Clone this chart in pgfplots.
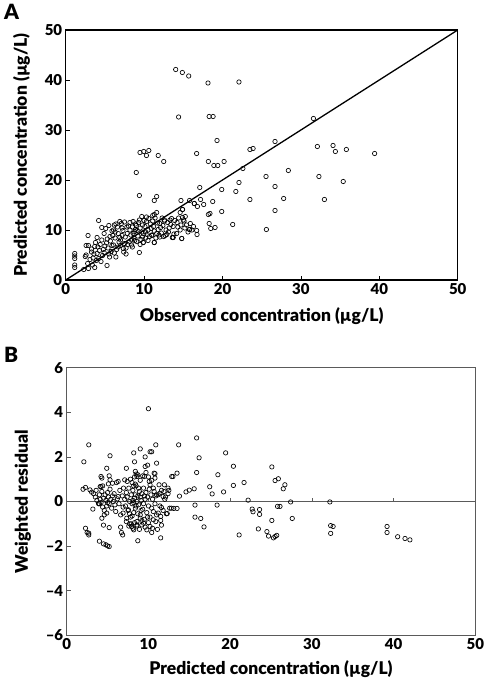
\documentclass[border=0pt]{standalone}
\usepackage{pgfplots}
\pgfplotsset{compat=1.18}
\usepackage{fontspec}
\setmainfont{Lato}[BoldFont={Lato Black}]
\definecolor{framegray}{RGB}{90,90,90}
\begin{document}
\begin{tikzpicture}
\useasboundingbox (0,0) rectangle (486pt,-684pt);
\pgfplotsset{
  every axis/.append style={
    scale only axis,
    /pgf/number format/assume math mode=true,
    tick label style={font=\fontsize{15}{17}\selectfont\bfseries},
    label style={font=\fontsize{17.5}{20}\selectfont\bfseries},
    tick align=inside,
    major tick length=4pt,
    xtick pos=left, ytick pos=left,
  },
}
% ---------------- Panel A
\node[anchor=north west, font=\fontsize{21}{24}\selectfont\bfseries, inner sep=0pt] at (4pt,-4pt) {A};
\begin{axis}[
  at={(65.7pt,-280pt)}, anchor=south west,
  width=392pt, height=250pt,
  xmin=0, xmax=50, ymin=0, ymax=50,
  xtick={0,10,...,50}, ytick={0,10,...,50},
  axis line style={black, line width=1.1pt},
  tick style={black, line width=0.6pt},
  xlabel={Observed concentration (µg/L)},
  ylabel={Predicted concentration (µg/L)},
  xlabel style={yshift=-6pt},
  ylabel style={yshift=8pt},
]
\addplot[black, line width=1.3pt] coordinates {(0,0) (50,50)};
\addplot[only marks, mark=o, mark size=2.2pt, black, mark options={line width=0.65pt}] coordinates {
(1.15,5.3)(1.15,4.8)(1.15,4.3)(1.15,3.0)(1.15,2.5)
(2.3,2.1)(2.6,6.9)(2.9,6.9)(2.85,8.9)(2.6,5.0)(2.5,4.7)(2.8,3.3)(2.9,2.3)(3.1,4.1)(3.3,5.6)
(3.4,3.0)(3.7,2.5)(3.7,6.7)(3.5,4.4)(3.9,3.9)(3.6,5.2)(3.8,7.5)(3.3,6.2)
(4.0,8.5)(4.2,11.9)(4.0,5.3)(4.2,4.3)(4.5,3.7)(4.8,6.1)(4.6,8.0)(4.9,9.3)(4.4,7.1)(4.3,5.9)(4.7,4.9)(4.1,6.6)(4.9,5.5)(4.6,10.5)
(5.1,10.3)(5.5,10.9)(5.65,8.7)(5.27,2.9)(5.2,7.4)(5.4,6.4)(5.8,5.7)(5.6,4.6)(5.3,8.2)(5.9,9.8)(5.0,6.8)(5.7,7.8)(5.5,5.2)(5.9,6.9)
(6.1,10.0)(6.1,7.0)(6.4,11.2)(6.9,11.7)(6.7,9.3)(6.3,8.4)(6.5,6.1)(6.2,5.4)(6.8,7.6)(6.6,10.6)(6.0,8.9)(6.4,4.6)(6.9,8.5)(6.3,9.6)(6.7,6.6)(6.2,11.0)
(7.0,8.0)(7.35,6.3)(7.7,5.2)(7.85,9.3)(7.2,10.4)(7.5,7.3)(7.1,11.3)(7.6,8.6)(7.3,9.9)(7.9,7.1)(7.4,5.6)(7.8,10.6)(7.0,6.9)(7.5,11.6)(7.2,8.9)(7.7,6.4)
(8.2,10.0)(8.4,8.0)(8.6,11.7)(8.8,9.7)(8.1,7.6)(8.3,9.0)(8.5,10.6)(8.7,8.4)(8.9,11.2)(8.0,10.8)(8.4,7.0)(8.6,9.3)(8.8,7.9)(8.2,11.5)(8.9,10.1)(8.5,6.6)
(9.05,7.7)(9.7,12.7)(9.9,9.3)(9.4,5.5)(9.9,7.5)(9.2,8.8)(9.5,10.4)(9.3,11.5)(9.6,8.1)(9.8,11.0)(9.1,9.9)(9.4,12.0)(9.7,9.6)(9.0,10.9)(9.5,7.1)(9.8,8.6)
(10.3,11.7)(10.5,10.0)(10.97,9.0)(10.2,8.4)(10.6,12.3)(10.1,10.7)(10.4,9.1)(10.8,11.2)(10.0,11.9)(10.7,8.7)(10.3,12.6)(10.9,10.3)(10.5,7.9)(10.2,9.6)
(11.2,10.7)(11.6,9.3)(11.3,7.5)(11.1,11.8)(11.5,8.4)(11.8,10.1)(11.4,12.4)(11.9,9.0)(11.0,8.9)(11.7,11.4)(11.3,9.8)(11.6,13.5)(11.3,13.1)(11.1,12.9)
(12.0,11.3)(12.5,8.7)(12.8,10.0)(12.2,9.4)(12.6,11.8)(12.3,12.4)(12.9,9.1)(12.1,10.5)(12.7,8.9)(12.4,10.9)(12.0,8.6)(12.6,12.0)
(13.3,12.0)(13.5,12.3)(13.7,10.7)(13.1,9.6)(13.4,11.1)(13.8,9.2)(13.2,10.4)(13.6,8.5)(13.9,11.9)(13.0,11.5)(13.7,8.5)
(14.15,9.3)(14.6,10.0)(14.4,12.4)(14.8,8.3)(14.2,11.5)(14.7,11.0)(14.9,14.1)(14.6,13.5)(14.3,10.6)(14.9,12.5)
(15.0,12.0)(15.25,12.7)(15.4,11.0)(15.9,11.3)(15.8,10.1)(15.2,10.4)(15.6,9.6)(15.1,11.8)
(16.1,10.0)(16.7,9.9)(16.75,9.1)(16.4,15.3)(16.8,14.7)(16.3,10.7)
(14.03,42.1)(14.88,41.5)(15.69,40.8)(18.15,39.4)(22.1,39.6)
(14.4,32.6)(18.3,32.7)(18.8,32.7)(31.6,32.3)
(19.3,27.9)(26.7,27.7)(32.1,26.7)(34.1,26.9)(34.4,25.7)(35.8,26.1)(39.4,25.3)(23.5,26.1)(23.9,26.3)
(9.48,25.5)(9.95,25.7)(10.6,25.9)(10.3,24.9)(11.8,24.9)(12.5,23.7)(16.7,25.3)(18.2,23.7)(18.9,22.9)(19.4,22.9)(20.2,23.7)
(22.6,22.3)(28.4,21.9)(9.0,21.5)(25.55,20.7)(32.3,20.7)(22.1,19.5)(35.4,19.7)(26.7,18.7)(17.1,18.5)(19.9,18.1)(21.7,17.7)
(9.4,16.9)(11.6,16.7)(11.3,15.9)(14.7,15.9)(15.8,15.9)(17.2,16.1)(18.75,15.7)(23.5,16.1)(27.8,16.3)(33.0,16.1)
(16.4,15.3)(17.6,15.1)(14.9,14.1)(19.9,13.7)(26.7,13.9)(18.4,13.3)(18.2,13.1)
(21.3,11.1)(18.3,11.3)(19.05,10.5)(18.5,10.3)(25.6,10.1)(15.8,10.1)(14.8,8.3)(13.7,8.5)(11.3,7.5)(9.9,7.5)
};
\end{axis}
% ---------------- Panel B
\node[anchor=north west, font=\fontsize{21}{24}\selectfont\bfseries, inner sep=0pt] at (4pt,-347pt) {B};
\begin{axis}[
  at={(66.7pt,-635.3pt)}, anchor=south west,
  width=408.6pt, height=267.6pt,
  xmin=0, xmax=50, ymin=-6, ymax=6,
  xtick={0,10,...,50}, ytick={-6,-4,...,6},
  yticklabels={--6,--4,--2,0,2,4,6},
  x tick style={draw=none},
  y tick style={framegray, line width=0.6pt},
  axis line style={framegray, line width=1.3pt},
  xlabel={Predicted concentration (µg/L)},
  ylabel={Weighted residual},
  xlabel style={yshift=-4pt},
  ylabel style={yshift=8pt},
]
\addplot[framegray, line width=1pt] coordinates {(0,0) (50,0)};
\foreach \xx in {10,20,30,40} {
  \edef\temp{\noexpand\draw[framegray, line width=0.6pt] (axis cs:\xx,0) -- ++(0pt,4pt);}
  \temp
}
\addplot[only marks, mark=o, mark size=2.2pt, black, mark options={line width=0.65pt}] coordinates {
(10.0,4.16)(2.7,2.54)(2.1,1.78)(15.9,2.85)(13.7,2.54)(10.9,2.54)(19.45,2.18)(16.2,1.96)(9.0,2.36)(8.2,2.18)(10.2,2.23)(10.4,2.23)(5.3,2.05)(9.6,2.0)
(20.4,1.58)(25.1,1.55)(15.9,1.30)(18.5,1.20)(21.7,0.85)(25.9,1.02)(25.5,0.94)(26.7,0.75)(26.5,0.57)(20.4,0.72)(19.2,0.43)(17.5,0.66)(17.8,0.34)
(15.6,0.57)(15.0,0.51)(14.6,0.43)(13.8,0.24)(22.2,0.06)(27.4,-0.02)(32.2,-0.02)(18.4,-0.16)(15.7,-0.16)(15.7,-0.70)(16.4,-0.76)(16.8,-1.14)
(22.7,-0.34)(22.8,-0.46)(23.6,-0.36)(23.6,-0.58)(23.45,-1.23)(21.1,-1.50)(24.5,-1.35)(24.7,-1.55)(25.1,-0.85)(25.3,-1.63)(25.5,-1.57)(25.7,-1.52)
(25.8,-0.22)(26.1,-0.22)(27.6,-0.76)(32.3,-1.43)(32.3,-1.08)(32.6,-1.12)(39.2,-1.12)(39.2,-1.39)(40.5,-1.58)(41.4,-1.66)(42.0,-1.72)
(13.5,-0.31)(13.1,-0.31)(12.3,-0.54)(11.6,-0.27)(11.5,-0.67)(11.6,-1.06)(11.5,-1.63)(10.4,-1.39)(8.7,-1.76)
(4.0,-1.78)(4.5,-1.90)(4.8,-1.94)(5.0,-1.99)(5.2,-2.02)(2.3,-1.20)(2.5,-1.39)(2.7,-1.50)(2.7,-1.42)(3.2,-0.34)
(2.0,0.55)(2.3,0.63)(2.85,0.52)(3.05,0.42)(4.5,-1.06)(5.2,-1.17)(4.3,-0.75)(4.9,-0.52)(5.9,-0.15)(6.3,0.22)(6.7,-1.39)(6.6,-1.15)(6.85,-1.50)
(7.3,1.49)(7.1,0.97)(4.9,1.49)(4.2,1.12)(5.2,1.15)(5.3,0.97)(5.1,0.79)(4.1,0.67)(6.1,0.85)
(8.3,1.78)(8.5,1.23)(8.6,1.12)(8.4,0.78)(9.6,1.57)(9.9,1.63)(9.5,1.12)(10.1,0.9)(10.7,1.27)(11.0,1.72)(10.8,1.05)
(12.85,1.12)(13.0,1.12)(13.5,1.27)(11.95,0.75)(12.4,0.6)(11.4,0.37)(11.8,0.22)(11.0,0.30)
(11.2,-0.52)(10.6,-0.82)(10.2,-1.12)(9.8,-1.27)(9.4,-0.97)(9.0,-0.75)(8.6,-1.05)(8.2,-1.27)(7.95,-1.12)(7.7,-1.0)(7.35,-0.75)(7.55,-0.37)(6.9,-0.52)
(3.3,0.35)(3.5,0.2)(3.7,0.05)(3.9,-0.1)(4.0,0.3)(4.1,0.1)(4.2,-0.05)(4.3,0.45)(4.4,-0.25)(4.5,0.15)(4.6,-0.4)(4.7,0.3)(4.8,0.05)(4.9,-0.2)(5.0,0.4)
(5.1,0.2)(5.2,-0.1)(5.3,0.55)(5.4,0.1)(5.5,-0.3)(5.6,0.25)(5.7,0.0)(5.8,0.35)(6.0,-0.45)(4.2,0.67)(4.3,1.05)(4.4,0.7)(5.6,0.82)(3.6,0.5)(4.0,-0.1)(4.6,-0.6)(5.0,-0.05)
(6.2,0.12)(6.4,-0.1)(6.5,0.5)(6.8,0.25)(6.9,-0.25)(6.6,-0.6)(6.95,0.6)(6.3,0.9)
(7.1,0.1)(7.2,-0.2)(7.3,0.4)(7.4,0.2)(7.5,-0.4)(7.6,0.6)(7.7,0.0)(7.8,-0.7)(7.9,0.3)(8.0,-0.1)(8.1,0.5)(8.2,-0.5)(8.3,0.15)(8.4,-0.3)(8.5,0.7)
(8.6,-0.9)(8.7,0.25)(8.8,-0.15)(8.9,0.45)(9.0,-0.6)(9.1,0.05)(9.2,0.35)(9.3,-0.35)(9.4,0.6)(9.5,-0.8)(9.6,0.1)(9.7,0.4)(9.8,-0.5)(9.9,0.2)(10.0,-0.2)
(10.1,0.55)(10.2,-0.7)(10.3,0.3)(10.4,-0.3)(10.5,0.1)(10.6,-0.45)(10.7,0.45)(10.8,-0.1)(10.9,0.25)(11.0,-0.6)
(7.3,-0.9)(7.6,-1.1)(7.9,-1.0)(8.1,-1.2)(8.3,-0.95)(8.6,-1.1)(8.9,-1.25)(9.2,-1.05)(9.6,-1.15)(10.0,-0.95)(10.5,-1.2)(10.9,-0.9)
(7.4,0.9)(7.8,1.0)(8.0,0.85)(8.3,1.1)(8.7,1.2)(9.0,0.95)(9.3,1.15)(9.7,1.3)(10.0,1.1)(10.4,0.95)(10.8,1.25)(8.4,1.35)
(7.7,-0.55)(8.0,-0.65)(8.2,0.7)(8.5,-0.2)(8.8,0.6)(9.1,-0.4)(9.4,-0.1)(9.9,-0.7)(10.2,0.75)(10.6,0.6)(8.1,0.05)(8.4,0.3)(8.6,0.0)(9.0,0.2)(9.5,0.25)
(8.2,-0.05)(8.7,-0.55)(9.2,-0.85)
(11.2,0.3)(11.4,-0.2)(11.6,0.5)(11.8,-0.4)(12.0,0.1)(12.2,-0.55)(12.4,0.35)(12.6,-0.3)(12.8,-0.3)(11.3,0.75)(11.9,0.45)(11.5,-0.85)(11.1,-1.25)(12.1,0.2)(12.5,0.5)
};
\end{axis}
\end{tikzpicture}
\end{document}
